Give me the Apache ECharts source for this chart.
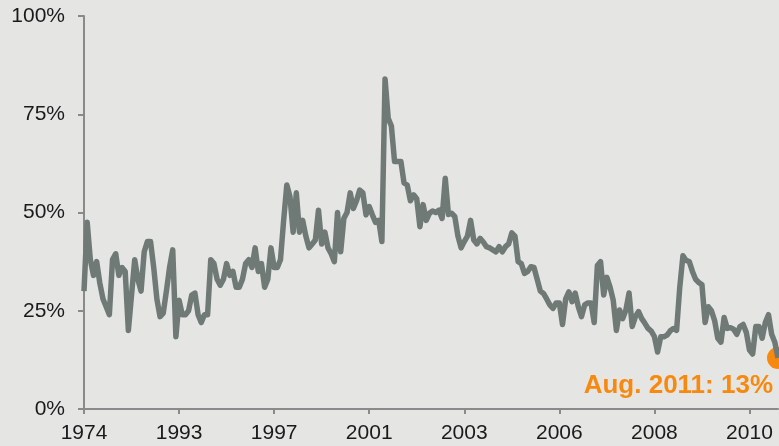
<!DOCTYPE html>
<html style="height: 100%">
<head>
<meta charset="utf-8">
<script src="https://cdn.jsdelivr.net/npm/echarts@6/dist/echarts.min.js"></script>
</head>
<body style="height: 100%; margin: 0; background: #e5e6e4">
<div id="container" style="width: 779px; height: 446px"></div>
<script type="text/javascript">
// tick labels, one every 30 points
var tickLabels = ['1974', '1993', '1997', '2001', '2003', '2006', '2008', '2010'];
var tickStep = 30;

// share (%), left to right
var values = [
  30, 47.5, 38, 34, 37.5, 32, 28, 26, 24, 38,
  39.5, 34, 36, 35, 20, 29, 38, 33, 30, 40,
  42.6, 42.6, 36, 28, 23.5, 24.4, 30, 36, 40.5, 18.4,
  27.7, 24, 24, 25, 29, 29.5, 24, 22, 24, 24,
  38, 37, 33, 31.5, 33, 37, 34, 35, 31, 31,
  33, 37, 38, 36, 41, 35, 37, 31, 33, 41,
  36, 36, 38, 48, 57, 54, 45, 55, 45, 48,
  44, 41, 42, 43, 50.6, 42, 45, 41, 39.5, 37.5,
  50, 40, 48.5, 50, 55, 51, 53, 55.7, 55, 49.4,
  51.5, 49.4, 47.5, 48, 42.6, 84, 74, 72, 63, 63,
  63, 57.5, 57, 53, 54.5, 53.5, 46.4, 52, 48, 49.8,
  50.4, 50, 50.6, 48.5, 58.7, 49.5, 49.8, 49, 44, 41,
  42.6, 44, 48, 43, 42, 43.4, 42.5, 41.3, 41, 40.5,
  40, 41.3, 40, 41.3, 42, 44.8, 44, 37.5, 37, 34.5,
  35, 36.2, 36, 33, 30, 29.4, 28, 26.5, 25.6, 27,
  27, 21.5, 28, 29.8, 27.3, 29.5, 26, 23.5, 26.5, 27,
  27, 22, 36.5, 37.5, 29, 33.5, 31, 27.7, 20, 25.2,
  23, 25.2, 29.5, 21, 23.5, 24.8, 23, 21.8, 20.5, 19.8,
  18.4, 14.5, 18.4, 18.4, 18.8, 19.9, 20.5, 20, 31, 39,
  37.8, 37.5, 35, 33, 32.2, 31.6, 22, 26, 25, 22.5,
  18, 17, 23.3, 20.5, 20.7, 20.3, 19, 21, 21.5, 19.5,
  15, 14, 21, 21, 18, 22, 24, 19, 17, 13
];

var lastName = 'Aug. 2011';

var categories = [];
for (var i = 0; i < values.length; i++) {
  categories.push(String(i));
}
var lastIdx = values.length - 1;

var showTick = function (index) {
  return index % tickStep === 0;
};

var chart = echarts.init(document.getElementById('container'));

var option = {
  backgroundColor: '#e5e6e4',
  animation: false,
  grid: {
    left: 84,
    right: 1,
    top: 16,
    bottom: 37
  },
  xAxis: {
    type: 'category',
    data: categories,
    boundaryGap: false,
    axisLine: { lineStyle: { color: '#8a8a8a', width: 2 } },
    axisTick: { interval: showTick, length: 5, lineStyle: { color: '#8a8a8a', width: 2 } },
    axisLabel: {
      interval: showTick,
      margin: 14,
      color: '#1a1a1a',
      fontSize: 21,
      fontFamily: 'Arial, Liberation Sans',
      formatter: function (v, index) {
        return tickLabels[index / tickStep] || '';
      }
    },
    splitLine: { show: false }
  },
  yAxis: {
    type: 'value',
    min: 0,
    max: 100,
    interval: 25,
    axisLine: { show: true, lineStyle: { color: '#8a8a8a', width: 2 } },
    axisTick: { show: true, length: 6, lineStyle: { color: '#8a8a8a', width: 2 } },
    axisLabel: {
      margin: 19,
      color: '#1a1a1a',
      fontSize: 21,
      fontFamily: 'Arial, Liberation Sans',
      formatter: '{value}%'
    },
    splitLine: { show: false }
  },
  series: [
    {
      type: 'line',
      data: values,
      symbol: 'none',
      lineStyle: { color: '#6f7a77', width: 5.5, join: 'round' }
    },
    {
      type: 'scatter',
      data: [[lastIdx, values[lastIdx]]],
      symbolSize: 22,
      itemStyle: { color: '#f7890f', opacity: 1 },
      label: {
        show: true,
        position: [6, 39],
        align: 'right',
        verticalAlign: 'middle',
        color: '#f7890f',
        fontSize: 26,
        fontWeight: 'bold',
        fontFamily: 'Arial, Liberation Sans',
        formatter: function (p) {
          return lastName + ': ' + p.value[1] + '%';
        }
      }
    }
  ]
};

chart.setOption(option);
</script>
</body>
</html>
